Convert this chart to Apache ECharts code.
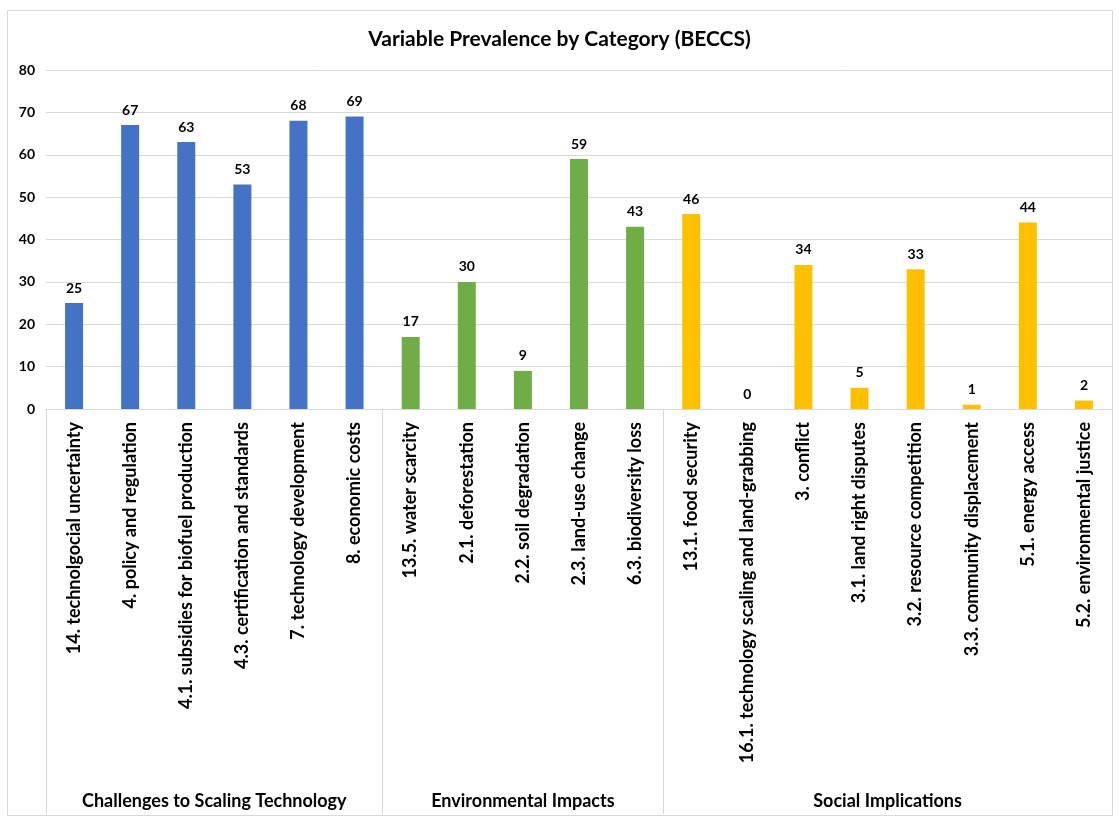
<!DOCTYPE html>
<html lang="en" style="height: 100%">
<head>
    <meta charset="utf-8">
    <title>Variable Prevalence by Category (BECCS)</title>
    <script src="https://cdn.jsdelivr.net/npm/echarts@6/dist/echarts.min.js"></script>
</head>
<body style="height: 100%; margin: 0; background: #fff">
<div id="container" style="width: 1119px; height: 820px"></div>
<script type="text/javascript">
    // categories, in drawing order
    var categories = [
        '14. technolgocial uncertainty',
        '4. policy and regulation',
        '4.1. subsidies for biofuel production',
        '4.3. certification and standards',
        '7. technology development',
        '8. economic costs',
        '13.5. water scarcity',
        '2.1. deforestation',
        '2.2. soil degradation',
        '2.3. land-use change',
        '6.3. biodiversity loss',
        '13.1. food security',
        '16.1. technology scaling and land-grabbing',
        '3. conflict',
        '3.1. land right disputes',
        '3.2. resource competition',
        '3.3. community displacement',
        '5.1. energy access',
        '5.2. environmental justice'
    ];
    var values = [25, 67, 63, 53, 68, 69, 17, 30, 9, 59, 43, 46, 0, 34, 5, 33, 1, 44, 2];

    var groupNames = ['Challenges to Scaling Technology', 'Environmental Impacts', 'Social Implications'];
    var groupSizes = [6, 5, 8];
    var groupColors = ['#4472C4', '#70AD47', '#FFC000'];

    var yTicks = [0, 10, 20, 30, 40, 50, 60, 70, 80];

    // group boundaries and centres in category units
    var bounds = [0];
    var centres = [];
    groupSizes.forEach(function (n, i) {
        centres.push(bounds[i] + n / 2);
        bounds.push(bounds[i] + n);
    });

    var barData = [];
    var g = 0, k = 0;
    for (var i = 0; i < values.length; i++) {
        if (k >= groupSizes[g]) { g++; k = 0; }
        barData.push({value: values[i], itemStyle: {color: groupColors[g]}});
        k++;
    }

    var font = 'Lato, "Open Sans", sans-serif';
    var chart = echarts.init(document.getElementById('container'), null, {renderer: 'canvas'});

    var option = {
        animation: false,
        textStyle: {fontFamily: font},
        title: {
            text: 'Variable Prevalence by Category (BECCS)',
            left: 'center',
            top: 24,
            textStyle: {fontSize: 21, fontWeight: 'bold', color: '#000', fontFamily: font}
        },
        graphic: [{
            type: 'rect',
            shape: {x: 7.5, y: 10.5, width: 1105, height: 805},
            style: {fill: 'none', stroke: '#d9d9d9', lineWidth: 1},
            silent: true
        }],
        grid: {left: 46, right: 7, top: 70, bottom: 411},
        xAxis: [{
            type: 'category',
            data: categories,
            axisLine: {lineStyle: {color: '#d9d9d9'}},
            axisTick: {show: false},
            axisLabel: {
                interval: 0,
                rotate: 90,
                margin: 13,
                fontSize: 18,
                fontWeight: 'bold',
                color: '#000',
                fontFamily: font
            }
        }, {
            type: 'value',
            min: 0,
            max: categories.length,
            position: 'bottom',
            offset: 405,
            splitLine: {show: false},
            axisLine: {show: false},
            axisTick: {
                show: true,
                customValues: bounds,
                inside: true,
                length: 405,
                lineStyle: {color: '#d9d9d9'}
            },
            axisLabel: {
                customValues: centres,
                inside: true,
                margin: 4,
                fontSize: 18,
                fontWeight: 'bold',
                color: '#000',
                fontFamily: font,
                formatter: function (v) {
                    var idx = centres.indexOf(v);
                    return idx >= 0 ? groupNames[idx] : '';
                }
            }
        }],
        yAxis: {
            type: 'value',
            min: yTicks[0],
            max: yTicks[yTicks.length - 1],
            interval: 10,
            axisLine: {show: false},
            axisTick: {show: false},
            splitLine: {lineStyle: {color: '#d9d9d9'}},
            axisLabel: {fontSize: 14, fontWeight: 'bold', color: '#000', margin: 11, fontFamily: font}
        },
        series: [{
            type: 'bar',
            data: barData,
            barWidth: 18,
            label: {
                show: true,
                position: 'top',
                distance: 8,
                fontSize: 14,
                fontWeight: 'bold',
                color: '#000',
                fontFamily: font
            }
        }]
    };

    chart.setOption(option);
    window.addEventListener('resize', chart.resize);
</script>
</body>
</html>
